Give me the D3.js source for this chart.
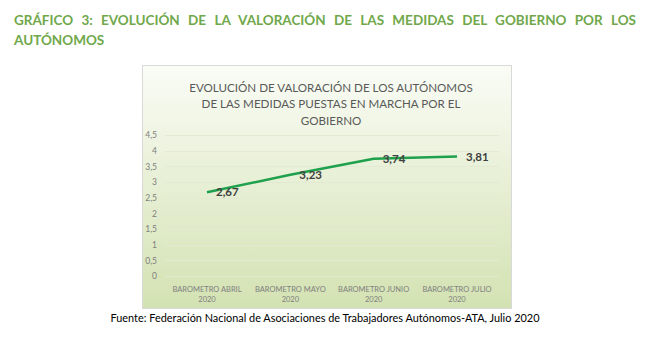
<!DOCTYPE html>
<html><head><meta charset="utf-8">
<script src="https://cdn.jsdelivr.net/npm/d3@7"></script>
<style>
html,body{margin:0;padding:0;background:#fff;}
svg{display:block;}
</style>
</head><body>
<svg id="c" width="650" height="339"></svg>
<script>
const categories = [["BAROMETRO ABRIL","2020"],["BAROMETRO MAYO","2020"],["BAROMETRO JUNIO","2020"],["BAROMETRO JULIO","2020"]];
const values = [2.67, 3.23, 3.74, 3.81];
const valueLabels = ["2,67","3,23","3,74","3,81"];
const yTicks = [0,0.5,1,1.5,2,2.5,3,3.5,4,4.5];
const yTickLabels = ["0","0,5","1","1,5","2","2,5","3","3,5","4","4,5"];
const headLine1 = "GRÁFICO 3: EVOLUCIÓN DE LA VALORACIÓN DE LAS MEDIDAS DEL GOBIERNO POR LOS";
const headLine2 = "AUTÓNOMOS";
const chartTitle = ["EVOLUCIÓN DE VALORACIÓN DE LOS AUTÓNOMOS","DE LAS MEDIDAS PUESTAS EN MARCHA POR EL","GOBIERNO"];
const source = "Fuente: Federación Nacional de Asociaciones de Trabajadores Autónomos-ATA, Julio 2020";

const svg = d3.select("#c");
const font = "Lato, 'Open Sans', sans-serif";

// Header (justified first line)
const h1 = svg.append("text").attr("x",14).attr("y",25)
  .attr("font-family",font).attr("font-weight","bold").attr("font-size",13.5)
  .attr("fill","#70a84b").text(headLine1);
const w = h1.node().getComputedTextLength();
const gaps = headLine1.split(" ").length - 1;
h1.attr("word-spacing", (636 - 14 - w) / gaps);
svg.append("text").attr("x",14).attr("y",45)
  .attr("font-family",font).attr("font-weight","bold").attr("font-size",13.5)
  .attr("fill","#70a84b").text(headLine2);

// Chart box with gradient
const defs = svg.append("defs");
const grad = defs.append("linearGradient").attr("id","bg").attr("x1",0).attr("y1",0).attr("x2",0).attr("y2",1);
grad.append("stop").attr("offset","0%").attr("stop-color","#fafcf6");
grad.append("stop").attr("offset","100%").attr("stop-color","#d3e2b2");
svg.append("rect").attr("x",142.5).attr("y",65.5).attr("width",369).attr("height",243)
  .attr("fill","url(#bg)").attr("stroke","#d9d9d9").attr("stroke-width",1);

// Chart title
svg.append("g").selectAll("text").data(chartTitle).join("text")
  .attr("x",331).attr("y",(d,i)=>91.5 + i*16.5)
  .attr("text-anchor","middle").attr("font-family",font).attr("font-size",11.6)
  .attr("fill","#595959").text(d=>d);

// Scales
const x = d3.scalePoint().domain(d3.range(categories.length)).range([207, 457]);
const y = d3.scaleLinear().domain([0,4.5]).range([276,135]);

// Gridlines
svg.append("g").selectAll("line").data(yTicks).join("line")
  .attr("x1",165).attr("x2",499)
  .attr("y1",d=>Math.round(y(d))+0.5).attr("y2",d=>Math.round(y(d))+0.5)
  .attr("stroke","#e3ead4").attr("stroke-width",1);

// Y axis labels
const yAxis = d3.axisLeft(y).tickValues(yTicks).tickSize(0).tickPadding(0)
  .tickFormat((d,i)=>yTickLabels[i]);
const ya = svg.append("g").attr("transform","translate(157,0)").call(yAxis);
ya.select(".domain").remove();
ya.selectAll("text").attr("font-family",font).attr("font-size",8.5).attr("fill","#7f7f7f");

// X axis labels
const xg = svg.append("g").selectAll("text").data(categories).join("text")
  .attr("x",(d,i)=>x(i)).attr("text-anchor","middle")
  .attr("font-family",font).attr("font-size",7.5).attr("fill","#7f7f7f");
xg.append("tspan").attr("x",(d,i)=>x(i)).attr("y",292).text(d=>d[0]);
xg.append("tspan").attr("x",(d,i)=>x(i)).attr("y",302).text(d=>d[1]);

// Line
const line = d3.line().x((d,i)=>x(i)).y(d=>y(d));
svg.append("path").datum(values).attr("d",line)
  .attr("fill","none").attr("stroke","#1ea04c").attr("stroke-width",2.5).attr("stroke-linejoin","round");

// Value labels
svg.append("g").selectAll("text").data(values).join("text")
  .attr("x",(d,i)=>x(i)+9).attr("y",d=>y(d)+4)
  .attr("font-family",font).attr("font-weight","bold").attr("font-size",11.5)
  .attr("fill","#404040").text((d,i)=>valueLabels[i]);

// Source
svg.append("text").attr("x",325).attr("y",322).attr("text-anchor","middle")
  .attr("font-family",font).attr("font-size",10.9).attr("fill","#000").text(source);
</script>
</body></html>
